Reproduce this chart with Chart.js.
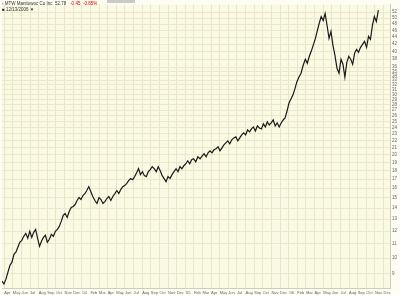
<!DOCTYPE html>
<html>
<head>
<meta charset="utf-8">
<script src="https://cdn.jsdelivr.net/npm/chart.js@4.4.1/dist/chart.umd.min.js"></script>
<style>
  html, body { margin: 0; padding: 0; background: #fdfdf3; }
  #wrap { position: relative; width: 400px; height: 295px; }
  .hdr { position: absolute; left: 2px; font-family: 'Liberation Sans', Arial, sans-serif; font-size: 4.5px; color: #333; white-space: nowrap; }
  .red { color: #e00000; }
  #topbox { position: absolute; left: 107px; top: 0; width: 28px; height: 3px; background: #c9c9c9; }
</style>
</head>
<body>
<div id="wrap">
  <canvas id="chart" width="400" height="295"></canvas>
  <div id="topbox"></div>
  <div class="hdr" style="top:1px;">&#9643; MTW Manitowoc Co Inc&nbsp; 52.78&nbsp;&nbsp; <span class="red">-0.45</span>&nbsp; <span class="red">-0.85%</span></div>
  <div class="hdr" style="top:7px;">&#9632; 12/13/2006 &#9660;</div>
</div>
<script>
// weekly closes, first week starting 2003-03-24
var firstWeek = [2003, 2, 24];
var closes = [
  8.58, 8.41, 8.69, 9.11, 9.54, 9.74, 10.27, 10.41, 10.76, 11.13,
  11.27, 11.58, 11.81, 11.43, 11.97, 11.50, 11.89, 12.13, 11.43, 10.83,
  11.20, 11.50, 11.66, 11.13, 11.35, 11.74, 11.58, 11.97, 12.13, 12.38,
  12.80, 13.32, 13.50, 13.14, 13.68, 14.05, 14.14, 14.33, 14.72, 15.02,
  14.82, 15.22, 15.42, 15.74, 16.16, 15.63, 15.12, 14.72, 14.43, 15.02,
  14.82, 14.43, 14.62, 14.92, 15.12, 14.72, 15.12, 15.42, 15.74, 15.42,
  15.84, 16.16, 16.27, 16.49, 16.82, 17.05, 16.93, 17.28, 17.74, 18.22,
  17.51, 17.86, 17.39, 17.28, 17.86, 18.10, 18.47, 18.22, 17.86, 18.47,
  17.98, 17.39, 17.05, 16.71, 17.28, 17.05, 17.51, 17.86, 18.22, 17.86,
  18.47, 18.22, 18.59, 18.84, 19.22, 18.84, 19.35, 19.48, 19.09, 19.74,
  19.48, 19.87, 20.14, 19.74, 20.27, 20.54, 20.27, 20.68, 20.82, 21.10,
  20.54, 20.96, 21.38, 21.67, 21.96, 21.53, 22.11, 22.40, 22.55, 21.96,
  22.40, 22.86, 23.16, 22.86, 23.63, 23.32, 23.79, 24.11, 23.47, 24.27,
  23.95, 23.79, 24.60, 24.11, 24.93, 24.43, 24.76, 25.26, 24.27, 24.76,
  24.11, 24.76, 25.26, 25.60, 26.82, 28.29, 29.06, 29.84, 31.06, 32.54,
  33.65, 34.56, 36.45, 37.94, 36.94, 38.71, 40.02, 41.65, 43.35, 45.72,
  48.23, 50.53, 49.20, 51.55, 47.59, 43.64, 45.72, 41.65, 38.96, 35.73,
  34.56, 37.94, 36.69, 33.65, 37.19, 38.71, 37.94, 36.69, 39.49, 40.55,
  39.75, 41.10, 41.93, 42.77, 41.10, 44.23, 43.35, 47.59, 50.53, 48.88,
  52.78
];

// month gridlines from Apr 2003 to Dec 2006
var xTickLabels = [
  'Apr','May','Jun','Jul','Aug','Sep','Oct','Nov','Dec',
  "'04",'Feb','Mar','Apr','May','Jun','Jul','Aug','Sep','Oct','Nov','Dec',
  "'05",'Feb','Mar','Apr','May','Jun','Jul','Aug','Sep','Oct','Nov','Dec',
  "'06",'Feb','Mar','Apr','May','Jun','Jul','Aug','Sep','Oct','Nov','Dec'
];
var firstTickMonth = 3; // months since Jan 2003

var yTicks = [9,10,11,12,13,14,15,16,17,18,19,20,21,22,23,24,25,26,27,28,29,30,
  31,32,33,34,35,36,38,40,42,44,46,48,50,52];

function monthPos(d) {
  var dim = new Date(d.getFullYear(), d.getMonth() + 1, 0).getDate();
  return (d.getFullYear() - 2003) * 12 + d.getMonth() + (d.getDate() - 1) / dim;
}

var points = [];
for (var i = 0; i < closes.length; i++) {
  var d = new Date(firstWeek[0], firstWeek[1], firstWeek[2] + 7 * i);
  points.push({ x: monthPos(d), y: closes[i] });
}

var plotBg = {
  id: 'plotBg',
  beforeDraw: function(chart) {
    var a = chart.chartArea, ctx = chart.ctx;
    ctx.save();
    ctx.fillStyle = '#fafae4';
    ctx.fillRect(a.left, a.top, a.right - a.left, a.bottom - a.top);
    ctx.restore();
  }
};

Chart.defaults.font.family = "'Liberation Sans', Arial, sans-serif";
Chart.defaults.font.size = 4;
Chart.defaults.color = '#666';

var ctx = document.getElementById('chart');
var chart = new Chart(ctx, {
  type: 'line',
  data: {
    datasets: [{
      data: points,
      borderColor: '#1a1a1a',
      borderWidth: 1.2,
      pointRadius: 0,
      tension: 0,
      fill: false
    }]
  },
  options: {
    responsive: false,
    animation: false,
    devicePixelRatio: 1,
    layout: { padding: { left: 2, top: 3, right: 0, bottom: 0 } },
    plugins: { legend: { display: false }, tooltip: { enabled: false } },
    scales: {
      x: {
        type: 'linear',
        min: 2.742,
        max: 47.75,
        grid: { color: '#e8e5c8', lineWidth: 1, drawTicks: false },
        border: { color: '#cfcdb4' },
        afterBuildTicks: function(scale) {
          scale.ticks = xTickLabels.map(function(l, i) { return { value: firstTickMonth + i }; });
        },
        afterFit: function(scale) { scale.height = 7; },
        ticks: {
          autoSkip: false,
          maxRotation: 0,
          align: 'start',
          padding: 2,
          font: { size: 4 },
          callback: function(v, i) { return xTickLabels[i]; }
        }
      },
      y: {
        type: 'logarithmic',
        position: 'right',
        min: 8.19,
        max: 54.7,
        grid: { color: '#ebe8cc', lineWidth: 1, drawTicks: false },
        border: { color: '#cfcdb4' },
        afterBuildTicks: function(scale) {
          scale.ticks = yTicks.map(function(v) { return { value: v }; });
        },
        afterFit: function(scale) { scale.width = 10; },
        ticks: {
          autoSkip: false,
          padding: 2,
          font: { size: 4.5 },
          callback: function(v) { return String(v); }
        }
      }
    }
  },
  plugins: [plotBg]
});
</script>
</body>
</html>
